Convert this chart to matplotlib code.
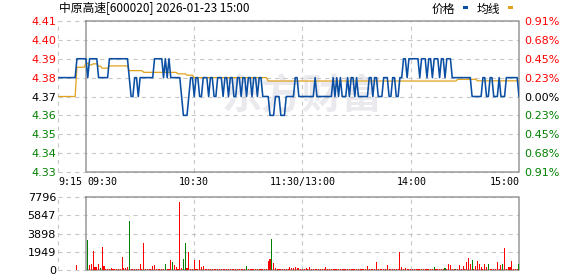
import matplotlib
matplotlib.use("Agg")
import matplotlib.pyplot as plt
import matplotlib.transforms as mtransforms
from matplotlib.patches import Rectangle

plt.rcParams['font.family'] = ['DejaVu Sans']
plt.rcParams['lines.scale_dashes'] = False

# ---------------- data ----------------
title = "中原高速[600020] 2026-01-23 15:00"
legend_names = ["价格", "均线"]
watermark = "东方财富"
prev_close = 4.37
price_ticks = [4.41, 4.40, 4.39, 4.38, 4.37, 4.36, 4.35, 4.34, 4.33]
pct_labels = ["0.91%", "0.68%", "0.45%", "0.23%", "0.00%", "0.23%", "0.45%", "0.68%", "0.91%"]
vol_ticks = [7796, 5847, 3898, 1949, 0]
time_labels = ["9:15", "09:30", "10:30", "11:30/13:00", "14:00", "15:00"]
time_ticks = [-15.5, 0, 60, 120, 180, 240]

# pre-market 9:15 ... 9:29
pre_price = [4.38, 4.38, 4.38, 4.38, 4.38, 4.38, 4.38, 4.38, 4.38, 4.38,
             4.39, 4.39, 4.39, 4.39, 4.39]
pre_avg = [4.37, 4.37, 4.37, 4.37, 4.37, 4.37, 4.37, 4.37, 4.37, 4.37,
           4.3855, 4.3855, 4.3855, 4.3855, 4.3855]
pre_volume = [0, 0, 0, 0, 0, 0, 0, 0, 0, 0, 530, 0, 0, 0, 0]

# session 9:30 ... 15:00 (241 minutes): price runs (level, minutes)
price_runs = [
    (4.39, 1), (4.38, 1), (4.39, 5), (4.38, 6), (4.39, 11), (4.38, 1), (4.37, 2),
    (4.38, 2), (4.37, 1), (4.38, 8), (4.39, 5), (4.38, 1), (4.39, 1), (4.38, 1),
    (4.39, 1), (4.38, 6), (4.37, 1), (4.36, 3), (4.37, 1), (4.38, 2), (4.37, 1),
    (4.38, 2), (4.37, 2), (4.38, 3), (4.37, 1), (4.38, 2), (4.37, 2), (4.38, 3),
    (4.37, 1), (4.38, 2), (4.37, 1), (4.38, 2), (4.37, 2), (4.38, 2), (4.37, 1),
    (4.38, 2), (4.37, 1), (4.38, 2), (4.37, 1), (4.38, 2), (4.37, 1), (4.38, 2),
    (4.37, 4), (4.36, 3), (4.37, 3), (4.36, 3), (4.37, 5), (4.38, 2), (4.37, 9),
    (4.38, 1), (4.37, 9), (4.38, 1), (4.37, 1), (4.38, 1), (4.37, 1), (4.38, 1),
    (4.37, 3), (4.38, 1), (4.37, 1), (4.38, 2), (4.37, 1), (4.38, 1), (4.37, 6),
    (4.38, 2), (4.37, 1), (4.38, 2), (4.37, 3), (4.38, 3), (4.37, 2), (4.38, 2),
    (4.37, 2), (4.38, 2), (4.39, 2), (4.38, 1), (4.39, 6), (4.38, 1), (4.39, 3),
    (4.38, 1), (4.39, 2), (4.38, 1), (4.39, 3), (4.38, 1), (4.39, 2), (4.38, 1),
    (4.39, 3), (4.38, 11), (4.37, 6), (4.38, 2), (4.37, 2), (4.38, 2), (4.37, 3),
    (4.38, 1), (4.37, 3), (4.38, 7), (4.37, 1)]
avg_runs = [
    (4.3876, 2), (4.3867, 2), (4.3873, 3), (4.3861, 2), (4.3850, 4), (4.3862, 11),
    (4.3837, 8), (4.3828, 19), (4.3820, 5), (4.3813, 4), (4.3800, 41), (4.3782, 105),
    (4.3791, 11), (4.3783, 24)]

volume = [
    0, 3190, 530, 600, 2055, 350, 350, 640, 180, 2480,
    425, 140, 120, 140, 250, 130, 140, 120, 110, 140,
    1420, 250, 180, 350, 5245, 140, 120, 130, 110, 140,
    640, 140, 2906, 140, 120, 150, 130, 425, 530, 140,
    120, 140, 110, 130, 640, 150, 140, 1063, 850, 530,
    354, 140, 7265, 250, 1134, 2835, 250, 1914, 140, 130,
    1063, 140, 120, 1063, 354, 425, 140, 120, 130, 110,
    120, 100, 130, 110, 120, 140, 100, 110, 120, 130,
    110, 120, 100, 130, 120, 110, 140, 120, 110, 425,
    120, 110, 130, 120, 100, 110, 120, 130, 110, 140,
    120, 990, 1134, 3296, 710, 200, 140, 120, 130, 110,
    140, 120, 130, 280, 250, 200, 280, 210, 250, 140,
    130, 120, 250, 140, 320, 120, 130, 110, 140, 120,
    110, 130, 120, 320, 140, 110, 120, 130, 140, 110,
    120, 110, 130, 120, 110, 140, 120, 110, 130, 120,
    110, 120, 140, 130, 110, 120, 425, 130, 110, 140,
    120, 850, 130, 120, 110, 140, 120, 530, 130, 110,
    120, 140, 130, 110, 1950, 354, 150, 250, 140, 120,
    110, 130, 120, 140, 110, 120, 130, 110, 120, 140,
    120, 110, 130, 320, 140, 120, 110, 130, 140, 250,
    130, 640, 530, 140, 120, 140, 130, 530, 120, 425,
    140, 886, 1276, 600, 1063, 130, 460, 957, 600, 354,
    140, 640, 280, 640, 140, 120, 140, 130, 850, 140,
    495, 640, 2374, 140, 280, 280, 990, 140, 130, 120, 640]
down_minutes = [1, 8, 24, 44, 48, 54, 55, 89, 103, 193, 199, 205, 214, 223, 231, 240]

# ---------------- colours ----------------
C_PRICE = '#0a4fa3'
C_AVG = '#e0a21c'
C_UP = '#ff0000'
C_DOWN = '#008000'
C_GRID = '#c8c8c8'
C_FRAME = '#999999'

# ---------------- figure ----------------
W, H = 578, 276
fig = plt.figure(figsize=(W / 100, H / 100), dpi=100)
L, R = 58, 519


def box(top, bottom):
    return [L / W, 1 - bottom / H, (R - L) / W, (bottom - top) / H]


axp = fig.add_axes(box(21, 172))
axv = fig.add_axes(box(197, 270))
for ax in (axp, axv):
    ax.set_xlim(time_ticks[0], time_ticks[-1])
    ax.axis('off')
axp.set_ylim(price_ticks[-1], price_ticks[0])
axv.set_ylim(0, vol_ticks[0])

grid_kw = dict(color=C_GRID, lw=0.8, ls=(0, (3, 3)), zorder=1, clip_on=False)
frame_kw = dict(color=C_FRAME, lw=1.1, zorder=2, clip_on=False, solid_capstyle='projecting')
vgrid = [time_ticks[0], time_ticks[2], time_ticks[3], time_ticks[4]]

# price panel grid + frame
for p in price_ticks:
    axp.axhline(p, **grid_kw)
for xv in vgrid:
    axp.axvline(xv, **grid_kw)
axp.plot([0, 240, 240, 0, 0],
         [price_ticks[0], price_ticks[0], price_ticks[-1], price_ticks[-1], price_ticks[0]],
         **frame_kw)

# volume panel grid + frame
for v in vol_ticks:
    axv.axhline(v, **grid_kw)
for xv in vgrid:
    axv.axvline(xv, **grid_kw)
axv.plot([0, 240, 240, 0, 0], [vol_ticks[0], vol_ticks[0], 0, 0, vol_ticks[0]], **frame_kw)

# watermark (placed in axes fraction)
axp.text(0.53, 0.50, watermark, transform=axp.transAxes, family=['Noto Sans CJK SC'],
         fontweight='bold', fontsize=29, color='#e9e9ee', ha='center', va='center',
         zorder=0.5, style='italic')

# series
price = [lv for lv, n in price_runs for _ in range(n)]
avg = [lv for lv, n in avg_runs for _ in range(n)]
pre_x = list(range(-len(pre_price), 0))
main_x = list(range(len(price)))
avg_x = list(range(len(avg)))

axp.plot(pre_x + avg_x, pre_avg + avg, color=C_AVG, lw=0.9, zorder=3)
axp.plot(pre_x + main_x, pre_price + price, color=C_PRICE, lw=1.15, zorder=4)

# volume bars
colors = [C_DOWN if i in down_minutes else C_UP for i in range(len(volume))]
axv.bar(list(range(len(volume))), volume, width=0.6, color=colors, linewidth=0, zorder=3)
axv.bar(pre_x, pre_volume, width=0.6, color=C_UP, linewidth=0, zorder=3)


def off(ax, dx, dy=0):
    return mtransforms.offset_copy(ax.transData, fig=fig, x=dx, y=dy, units='dots')


# price labels
for p, lab in zip(price_ticks, pct_labels):
    c = C_UP if p > prev_close + 1e-9 else (C_DOWN if p < prev_close - 1e-9 else 'black')
    axp.text(time_ticks[0], p, f"{p:.2f}", transform=off(axp, -2, -1), ha='right',
             va='center', fontsize=8, color=c)
    axp.text(240, p, lab, transform=off(axp, 5, -1), ha='left', va='center',
             fontsize=8, color=c)

# volume labels
for v in vol_ticks:
    axv.text(time_ticks[0], v, f"{v}", transform=off(axv, -2, -1), ha='right',
             va='center', fontsize=8, color='black')

# time labels
has = ['left', 'left', 'center', 'center', 'center', 'right']
dxs = [0, 1, 0, 0, 1, 1]
for t, lab, ha, dx in zip(time_ticks, time_labels, has, dxs):
    axp.text(t, price_ticks[-1], lab, transform=off(axp, dx, -10), ha=ha, va='center',
             fontsize=7.2, family='DejaVu Sans Mono', color='black')

# title
fig.text(59 / W, 1 - 9 / H, title, family=['Noto Sans CJK SC', 'DejaVu Sans'],
         fontsize=8.5, ha='left', va='center', color='black')

# legend
fig.text(432 / W, 1 - 9 / H, legend_names[0], family=['Noto Sans CJK SC', 'DejaVu Sans'],
         fontsize=8.5, ha='left', va='center', color='black')
fig.text(477 / W, 1 - 9 / H, legend_names[1], family=['Noto Sans CJK SC', 'DejaVu Sans'],
         fontsize=8.5, ha='left', va='center', color='black')
fig.add_artist(Rectangle((463 / W, 1 - 9 / H), 5 / W, 3 / H, transform=fig.transFigure,
                         color=C_PRICE, lw=0))
fig.add_artist(Rectangle((508 / W, 1 - 9 / H), 5 / W, 3 / H, transform=fig.transFigure,
                         color=C_AVG, lw=0))

fig.savefig("out.png", dpi=100)
